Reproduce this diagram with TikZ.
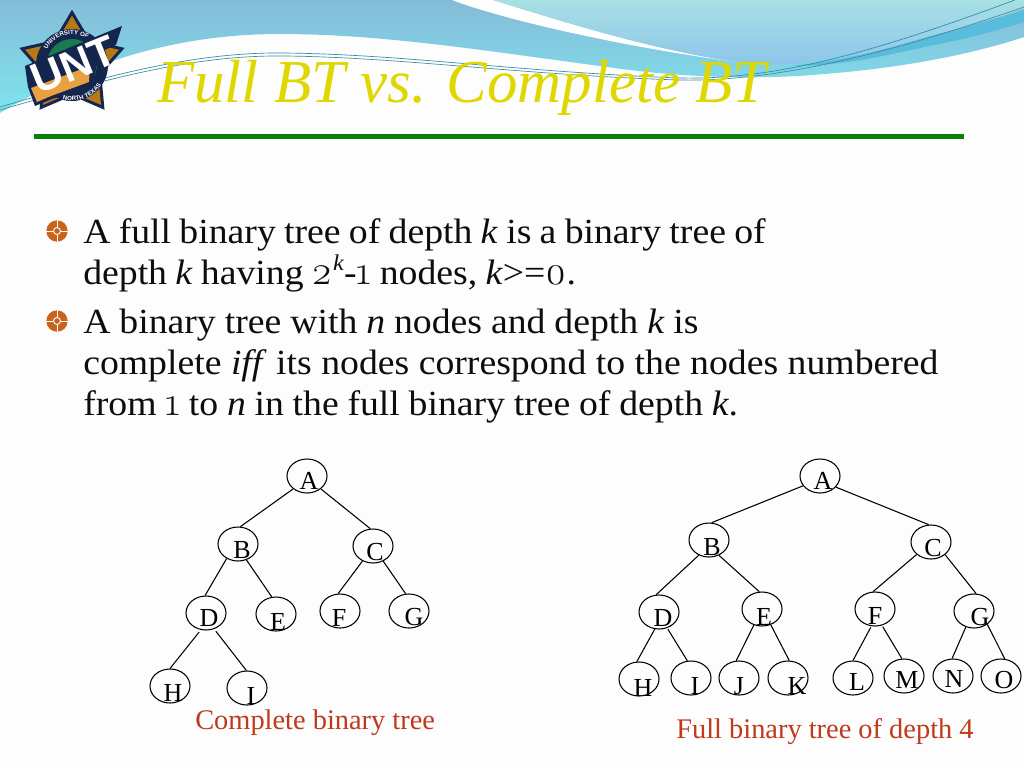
\documentclass[tikz,border=0pt]{standalone}
\usepackage{fontspec}
\setmainfont{Liberation Serif}
\newfontfamily\bodyfont[FakeStretch=1.068]{Liberation Serif}
\newfontfamily\oldnum[Numbers=OldStyle,Scale=1.15]{Latin Modern Roman}
\newfontfamily\logofont{Liberation Sans}
\usetikzlibrary{shapes.geometric,decorations.text}
\definecolor{pagewhite}{HTML}{FDFDFD}
\definecolor{skytop}{HTML}{84BCD8}
\definecolor{skymid}{HTML}{74D2E6}
\definecolor{skylow}{HTML}{7FE4EE}
\definecolor{aquatop}{HTML}{A8E0E4}
\definecolor{aqualow}{HTML}{8CC4EA}
\definecolor{bandblue}{HTML}{58BCDC}
\definecolor{threadblue}{HTML}{2A8FA8}
\definecolor{titleyellow}{HTML}{E0D600}
\definecolor{rulegreen}{HTML}{0A8008}
\definecolor{bulletorange}{HTML}{C8641C}
\definecolor{captionred}{HTML}{C0391B}
\definecolor{logonavy}{HTML}{14264E}
\definecolor{logoorange}{HTML}{B87818}
\definecolor{logotan}{HTML}{E8A040}
\definecolor{logogreen}{HTML}{1A7A50}
\tikzset{
	treenode/.style={draw=black, ellipse, line width=0.8pt, minimum width=30pt, minimum height=25.5pt, inner sep=0pt},
	treetext/.style={font=\fontsize{19.5}{21}\selectfont, inner sep=0pt},
	treeedge/.style={line width=0.8pt},
	bodytext/.style={anchor=base west, inner sep=0pt, text=black!95, font=\bodyfont\fontsize{26.5}{30}\selectfont},
	captiontext/.style={anchor=base west, inner sep=0pt, text=captionred, font=\fontsize{21.3}{24}\selectfont},
	thread/.style={line width=0.5pt},
	logoarc/.style={decorate, decoration={text along path, text align=center, text color=white, text={|\logofont\bfseries\fontsize{4.6}{5}\selectfont|#1}}}
}
\begin{document}
\begin{tikzpicture}[x=0.75pt, y=-0.75pt, line join=round]
	\useasboundingbox (0,0) rectangle (1024,768);
	\fill[pagewhite] (0,0) rectangle (1024,768);
	\shade[top color=skytop, middle color=skymid, bottom color=skylow] (0,0)--(1024,0)--(1024,37) .. controls (970,55) and (900,68) .. (824,74) .. controls (760,80) and (680,78) .. (600,66) .. controls (480,50) and (380,34) .. (280,34) .. controls (180,34) and (90,60) .. (0,113)--cycle;
	\fill[white] (452,0) .. controls (510,22) and (640,50) .. (745,63) .. controls (660,52) and (570,24) .. (493,0)--cycle;
	\shade[top color=aquatop, bottom color=aqualow] (493,0) .. controls (570,24) and (660,52) .. (745,63) .. controls (790,68) and (850,60) .. (924,38) .. controls (960,28) and (1000,18) .. (1024,8)--(1024,0)--cycle;
	\fill[bandblue] (790,66) .. controls (850,60) and (890,48) .. (924,38) .. controls (960,28) and (1000,18) .. (1024,10)--(1024,22) .. controls (990,33) and (960,40) .. (924,47) .. controls (880,57) and (840,66) .. (790,66)--cycle;
	\draw[thread, threadblue] (0,107) .. controls (100,78) and (190,52) .. (283,53) .. controls (400,54) and (520,72) .. (680,78) .. controls (780,80) and (880,50) .. (1015,0);
	\draw[thread, threadblue!70!gray] (0,110) .. controls (100,81) and (190,55) .. (283,56) .. controls (400,57) and (520,75) .. (680,80) .. controls (780,82) and (900,50) .. (1024,7);

	\node[star, star points=5, star point ratio=1.8, minimum size=83pt, inner sep=0pt, fill=logonavy] (logostar) at (72,65) {};
	\node[star, star points=5, star point ratio=1.8, minimum size=74pt, inner sep=0pt, fill=logoorange] (logoinner) at (72,65) {};
	\fill[logonavy] (72,65) circle (36);
	\fill[logogreen] (72,64) circle (25);
	\path[logoarc={UNIVERSITY OF}] (45,55) arc (195:315:28);
	\path[logoarc={NORTH TEXAS}] (54,96) arc (120:20:36);
	\fill[logonavy] (25,66)--(122,26)--(116,45)--(100,52)--(92,85)--(52,99)--(35,106)--(28,87)--cycle;
	\fill[logotan] (31,88)--(90,66)--(89,82)--(51,96)--(37,102)--cycle;
	\node[rotate=22, inner sep=0pt, text=white, font=\logofont\bfseries\fontsize{32}{32}\selectfont] (logotext) at (74,65) {UNT};

	\node[anchor=base west, inner sep=0pt, text=titleyellow, font=\itshape\fontsize{45.7}{50}\selectfont] (title) at (157,102) {Full BT vs. Complete BT};
	\fill[rulegreen] (34,134) rectangle (964,139);

	\foreach \y in {231,321}{
		\fill[bulletorange] (57,\y) circle (10.7);
		\draw[white, line width=0.7pt] (46,\y)--(53,\y) (61,\y)--(68,\y) (57,\y-11)--(57,\y-4) (57,\y+4)--(57,\y+11);
		\draw[white, line width=0.7pt] (57,\y) circle (3.5);
	}

	\node[bodytext] (lineone) at (83,243) {\spaceskip=6.2pt A full binary tree of depth \textit{k} is a binary tree of};
	\node[bodytext] (linetwo) at (83,284) {\spaceskip=6.2pt depth \textit{k} having {\oldnum 2}\raisebox{0.38em}{\fontsize{17}{17}\selectfont\textit{k}}-{\oldnum 1} nodes, \textit{k}>={\oldnum 0}.};
	\node[bodytext] (linethree) at (83,333) {\spaceskip=6.7pt A binary tree with \textit{n} nodes and depth \textit{k} is};
	\node[bodytext] (linefour) at (83,374) {complete \textit{iff} its nodes correspond to the nodes numbered};
	\node[bodytext] (linefive) at (83,415) {\spaceskip=6.55pt from {\oldnum 1} to \textit{n} in the full binary tree of depth \textit{k}.};

	\foreach \name/\x/\y/\tx/\ty/\letter in {
		la/307/476/309/481/A, lb/238/544/242/550/B, lc/373/546/375/552/C,
		ld/206/613/209/618/D, le/276/614/278/622/E, lf/340/611/339/618/F,
		lg/409/611/414/617/G, lh/170/686/173/693/H, li/247/688/251/696/I,
		ra/820/476/823/481/A, rb/709/540/712/547/B, rc/931/542/933/548/C,
		rd/659/612/663/618/D, re/762/609/764/617/E, rf/875/609/875/616/F,
		rg/974/611/980/617/G, rh/639/679/643/688/H, ri/691/678/695/686/I,
		rj/739/678/739/686/J, rk/788/678/797/686/K, rl/853/678/857/682/L,
		rm/904/676/907/680/M, rn/953/676/954/679/N, ro/1001/676/1004/680/O}{
		\node[treenode] (\name) at (\x,\y) {};
		\node[treetext] (t\name) at (\tx,\ty) {\letter};
	}

	\foreach \from/\fromangle/\to/\toangle/\gap in {
		la/223/lb/82/0, la/317/lc/99/0, lb/232/ld/93/0, lb/298/le/104/0,
		lc/235/lf/96/0, lc/304/lg/101/0, ld/253/lh/90/2, ld/297/li/92/2,
		ra/210/rb/81/0, ra/325/rc/98/0, rb/236/rd/99/0, rb/303/re/99/0,
		rc/221/rf/96/0, rc/318/rg/83/0, rd/256/rh/97/0, rd/297/ri/102/1,
		re/243/rj/99/0, re/299/rk/86/0, rf/258/rl/90/1, rf/293/rm/97/1,
		rg/243/rn/93/0, rg/315/ro/78/0}{
		\draw[treeedge, shorten <=\gap pt] (\from.\fromangle)--(\to.\toangle);
	}

	\node[captiontext] (leftcaption) at (195,729) {Complete binary tree};
	\node[captiontext] (rightcaption) at (676,738) {Full binary tree of depth 4};
\end{tikzpicture}
\end{document}
